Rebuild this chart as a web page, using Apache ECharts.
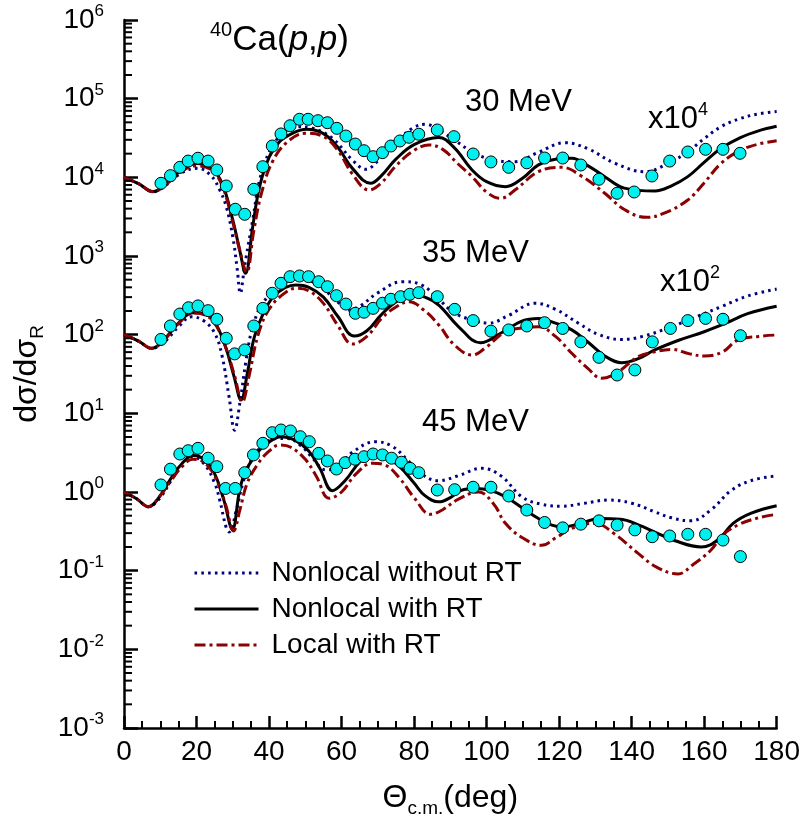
<!DOCTYPE html>
<html>
<head>
<meta charset="utf-8">
<script src="https://cdn.jsdelivr.net/npm/echarts@6/dist/echarts.min.js"></script>
<style>html,body{margin:0;padding:0;background:#fff}#c{width:803px;height:837px}</style>
</head>
<body>
<div id="c"></div>
<script>
// ---------- experimental data (x10^4 for 30 MeV, x10^2 for 35 MeV) ----------
const ang30 = [10.2,12.8,15.4,17.7,20.4,23.2,25.6,28.2,30.7,33.3,35.8,38.3,40.9,43.3,45.8,48.4,50.8,53.5,56.1,58.7,61.2,63.8,66.2,68.7,71.3,73.6,76.1,78.6,81.3,86.4,91.0,96.3,101.2,106.1,111.1,116.0,121.0,126.0,131.0,136.0,140.7,145.6,150.5,155.5,160.4,165.2,169.9];
const val30 = [8400,10500,13400,16100,17500,16100,12400,7760,3930,3390,7050,13650,25000,35600,45300,54700,54700,52500,49500,42000,33500,26500,21800,18300,20600,25000,29000,32300,35300,40000,32900,19800,15700,13400,15300,17600,17600,14350,9450,6270,6510,10400,16100,21000,22700,22700,20200];
const ang35 = [10.2,12.8,15.4,17.8,20.4,23.2,25.6,28.2,30.5,33.3,35.8,38.3,40.9,43.3,45.8,48.4,50.9,53.7,56.1,58.6,61.2,63.8,66.2,68.7,71.3,73.6,76.3,78.8,81.3,86.4,91.2,96.3,101.2,106.1,111.1,116.0,121.0,126.0,131.0,136.0,140.9,145.7,150.7,155.5,160.4,165.2,170.0];
const val35 = [87,129,183,220,232,202,157,90,57,64,129,216,336,450,546,557,546,471,407,313,245,187,193,216,251,282,304,326,342,304,210,151,111,115,129,142,120,81,51.5,30.7,35.6,81,120,151,161,157,97];
const ang45 = [10.2,12.8,15.4,17.7,20.4,23.2,25.6,28.0,30.7,33.3,35.7,38.3,40.9,43.3,45.9,48.6,51.1,53.7,56.1,58.6,61.0,63.7,66.2,68.7,71.3,73.8,76.5,78.9,81.3,86.4,91.2,96.3,101.2,106.1,111.1,116.0,121.0,126.0,131.0,136.0,140.9,145.7,150.5,155.5,160.4,165.2,170.0];
const val45 = [1.23,1.95,3.04,3.35,3.59,2.69,2.10,1.11,1.11,1.76,2.96,4.16,5.68,6.14,5.97,5.05,4.36,3.10,2.48,1.96,2.36,2.61,2.81,3.04,2.96,2.69,2.39,2.00,1.76,1.06,1.07,1.15,1.15,0.89,0.59,0.41,0.35,0.39,0.43,0.38,0.33,0.27,0.276,0.29,0.29,0.245,0.151];

// ---------- calculated curves [angle, value] ----------
const nlNoRT30 = [[0,10000],[4,8300],[8,6560],[12,8200],[16,11500],[20.4,13000],[24,10500],[26.4,6900],[28.2,4240],[30,1760],[31.2,700],[32.1,336],[33,600],[33.7,980],[35.5,2870],[37.4,9250],[40.1,21200],[42.9,32900],[47.5,44000],[52,42000],[57.5,31300],[63,16600],[66.7,12650],[70.3,16600],[74.9,27100],[79.5,42000],[83.2,47200],[86.8,40000],[91,30000],[96,21200],[101,17000],[107.9,15800],[114,20500],[121.6,27500],[128,23000],[135.4,15100],[143.6,11800],[150,15000],[155.5,21200],[160,31000],[164.7,44100],[170,56000],[175,64000],[180,68500]];
const nlRT30 = [[0,10000],[4,8300],[8,6600],[12,8600],[16,12500],[20,15000],[24,13000],[27,8500],[30,2870],[31.9,1190],[33.5,603],[35.5,2360],[37.4,7600],[40.1,18300],[42.9,28400],[46.5,36300],[50.2,40800],[55,36000],[59,24000],[63,13000],[68,8400],[71,10500],[75,17000],[80,26000],[86.8,32000],[91,24000],[96,12400],[100,8800],[105.2,7600],[110,9800],[114.3,14400],[119,17000],[123.5,17500],[128,14000],[132.6,10200],[138,7300],[146.4,6700],[151,7800],[155.5,10200],[160,15500],[164.7,23400],[170,32000],[175,39000],[180,44500]];
const lRT30 = [[0,10000],[4,8300],[8,6560],[12,8400],[16,12000],[20,14000],[24,12500],[27,8000],[30,2700],[32,1150],[33.8,620],[35.8,2100],[38,6500],[41,16000],[45,28000],[50,36300],[55,33000],[59,22000],[63,11000],[67.6,6900],[71,8500],[75,14000],[80,22000],[84.1,25800],[88,22500],[92,15000],[96,10200],[100,6500],[103.8,5400],[108,7000],[114.3,11800],[120.7,13400],[126,10500],[132.6,6270],[138,3900],[144.1,3100],[149,3500],[155.5,5150],[160,8500],[164.7,15100],[170,22000],[175,26500],[180,29200]];

const nlNoRT35 = [[0,100],[4,83],[7.6,67],[11,80],[15,125],[18.6,169],[22,150],[25,105],[27,55],[29,16],[30.5,6.1],[32,14],[33.7,48],[35.5,126],[38.3,251],[43,420],[47.5,510],[51,490],[55,380],[59,260],[62,206],[65,230],[70,340],[76.8,471],[82,430],[86.8,282],[91,190],[96,154],[100.6,140],[106,175],[113.4,251],[119,210],[125.3,140],[131,100],[137.2,87],[143,95],[151,126],[158,170],[164.7,227],[172,310],[180,380]];
const nlRT35 = [[0,100],[4,83],[7.6,67],[11,86],[15,140],[19,190],[22,185],[25,145],[28,70],[30.3,30],[32.3,14.8],[34,32],[36,95],[39,210],[42,330],[47.4,428],[51,400],[55,300],[59,170],[63.5,96],[67,112],[71,180],[75,260],[79.5,319],[83,300],[86.8,238],[92.3,126],[98.3,79],[104,105],[109.7,149],[114.3,161],[119,140],[123.5,115],[128,80],[132.6,53.6],[137.2,44],[142,50],[146.4,64],[153,85],[160,109],[166,140],[172,185],[180,230]];
const lRT35 = [[0,100],[4,83],[7.6,67],[11,85],[15,138],[19,188],[22,180],[25,140],[28,70],[30.5,30],[32.6,14],[34.5,30],[37,100],[40,210],[44,330],[47.4,388],[51,360],[55,250],[59,130],[63,76],[67,95],[71,160],[75,225],[78.6,262],[83,200],[86.8,133],[91,75],[96,55],[100,70],[105.2,109],[110,122],[114.3,126],[119,95],[123.5,58],[128,37],[131.7,27.9],[136,33],[141.8,52.5],[146,60],[151,65],[156,57],[160.1,53.6],[165,60],[169.3,85.5],[175,95],[180,99]];

const nlNoRT45 = [[0,1],[3.5,0.82],[6.7,0.65],[10,0.85],[13,1.4],[16,2.2],[18.6,2.81],[22,2.3],[25,1.3],[26.4,0.79],[28.2,0.35],[29,0.31],[31,0.59],[32.8,1.3],[35,2.5],[38,3.8],[42,4.8],[45,4.8],[49,3.8],[52,2.7],[55.7,1.91],[59,2.1],[63,3.2],[69.4,4.36],[74,3.8],[78,2.6],[82,1.7],[86.8,1.39],[92,1.6],[98.7,2.0],[104,1.6],[109.7,0.87],[115,0.7],[120.7,0.66],[127,0.72],[133.6,0.79],[140,0.72],[146.4,0.56],[151,0.47],[156.4,0.43],[162,0.6],[167.4,1.04],[173,1.4],[180,1.6]];
const nlRT45 = [[0,1],[3.5,0.82],[6.7,0.65],[10,0.9],[13,1.5],[16,2.3],[19,2.9],[22,2.6],[25,1.7],[27.5,0.8],[29.9,0.336],[31.9,1.06],[33.7,1.91],[37.4,3.42],[40,4.3],[43.3,5.05],[47,4.6],[51,3.3],[54,2.0],[57.5,1.04],[61,1.4],[65,2.4],[68.5,2.96],[72,2.8],[76,2.1],[80,1.3],[83,0.9],[86.8,0.75],[90,0.85],[93,1.05],[96.9,1.11],[101,1.05],[105.2,0.87],[110,0.62],[114.3,0.46],[118,0.38],[121,0.36],[126,0.4],[131,0.46],[137,0.45],[142,0.38],[146.4,0.31],[152,0.24],[159.2,0.2],[164,0.25],[168,0.4],[173,0.54],[180,0.67]];
const lRT45 = [[0,1],[3.5,0.82],[6.7,0.65],[10,0.9],[13,1.4],[16,2.1],[19,2.6],[22,2.4],[25,1.6],[28,0.7],[30.2,0.32],[32,0.6],[34,1.3],[37,2.3],[40,3.3],[42.9,3.96],[46,3.7],[50,2.6],[53,1.6],[56.6,0.83],[60,1.0],[64,1.7],[68.5,2.32],[72,2.2],[76,1.5],[80,0.85],[84.6,0.52],[88,0.6],[92,0.8],[97.8,1.0],[102,0.7],[105.2,0.4],[110,0.26],[115.2,0.21],[119,0.26],[123.5,0.345],[129.9,0.4],[135,0.3],[141.8,0.166],[147,0.11],[152.8,0.091],[157,0.12],[161.9,0.183],[165,0.28],[169.3,0.38],[175,0.47],[180,0.52]];

const legendNames = ['Nonlocal without RT','Nonlocal with RT','Local with RT'];
const yTickExp = [-3,-2,-1,0,1,2,3,4,5,6];
const yMinorMantissa = [2,3,4,5,6,7,8,9];

// ---------- build chart ----------
const FONT = "'Liberation Sans', Arial, Helvetica, sans-serif";
const chart = echarts.init(document.getElementById('c'), null, {renderer:'canvas'});
const zip = (a, v) => a.map((x, i) => [x, v[i]]);

const styles = [
  {color:'#000080', type:[2.6,4.2], width:3},
  {color:'#000000', type:'solid', width:3},
  {color:'#8b0000', type:[11,4,3,4], width:3}
];
const curveSets = [[nlNoRT30,nlRT30,lRT30],[nlNoRT35,nlRT35,lRT35],[nlNoRT45,nlRT45,lRT45]];
const series = [];
for (let k = 0; k < 3; k++) {
  for (let e = 0; e < 3; e++) {
    series.push({
      type:'line', name:legendNames[k], data:curveSets[e][k], smooth:0.4,
      showSymbol:false, symbol:'none', z:2 + k,
      lineStyle:{color:styles[k].color, type:styles[k].type, width:styles[k].width},
      itemStyle:{color:styles[k].color}
    });
  }
}
[[ang30,val30],[ang35,val35],[ang45,val45]].forEach(([a,v]) => {
  series.push({
    type:'scatter', name:'exp', data:zip(a,v), symbol:'circle', symbolSize:12, z:10,
    itemStyle:{color:'#00f0f0', borderColor:'#000', borderWidth:1, opacity:1}
  });
});

// log minor ticks (2..9 x 10^k) placed through the y scale
const minorVals = [];
for (let i = 0; i < yTickExp.length - 1; i++) {
  yMinorMantissa.forEach(m => minorVals.push([0, m * Math.pow(10, yTickExp[i])]));
}
series.push({
  type:'custom', name:'minorTicks', data:minorVals, silent:true, clip:false, z:20,
  renderItem:function(params, api){
    const p = api.coord([0, api.value(1)]);
    return {type:'line', shape:{x1:p[0], y1:p[1], x2:p[0] + 8, y2:p[1]}, style:{stroke:'#000', lineWidth:2}};
  }
});

const supRich = {
  n:{fontSize:31, lineHeight:36, fontFamily:FONT, color:'#000'},
  s:{fontSize:18, lineHeight:16, verticalAlign:'top', fontFamily:FONT, color:'#000'}
};
function annot(x, y, text) {
  return {type:'text', x:x, y:y, z:50, style:{text:text, rich:supRich, align:'left', verticalAlign:'middle', fill:'#000', font:'31px ' + FONT}};
}

const option = {
  backgroundColor:'#fff',
  animation:false,
  grid:{left:124, right:24, top:20, bottom:109, containLabel:false},
  legend:{
    data:legendNames, orient:'vertical', left:193, top:557, padding:0,
    itemWidth:64, itemHeight:14, itemGap:4,
    itemStyle:{opacity:0, borderWidth:0},
    lineStyle:{width:3},
    textStyle:{fontSize:28, lineHeight:32, fontFamily:FONT, color:'#000', padding:[0,0,0,8]},
    selectedMode:false
  },
  xAxis:{
    type:'value', min:0, max:180, interval:20,
    axisLine:{show:true, lineStyle:{color:'#000', width:2.5}},
    axisTick:{show:true, inside:true, length:12, lineStyle:{color:'#000', width:2.5}},
    minorTick:{show:true, splitNumber:4, length:7, lineStyle:{color:'#000', width:2}},
    splitLine:{show:false},
    axisLabel:{fontSize:28, color:'#000', fontFamily:FONT, margin:10},
    name:'{n|Θ}{s|c.m.}{n|(deg)}', nameLocation:'middle', nameGap:50,
    nameTextStyle:{rich:{
      n:{fontSize:32, lineHeight:40, fontFamily:FONT, color:'#000'},
      s:{fontSize:19, lineHeight:18, verticalAlign:'bottom', fontFamily:FONT, color:'#000'}
    }}
  },
  yAxis:{
    type:'log', logBase:10, min:0.001, max:1e6, splitNumber:9,
    axisLine:{show:true, lineStyle:{color:'#000', width:2.5}},
    axisTick:{show:true, inside:true, length:14, lineStyle:{color:'#000', width:2.5}},
    minorTick:{show:false},
    splitLine:{show:false},
    axisLabel:{
      margin:20, fontFamily:FONT, color:'#000',
      formatter:function(v){ const ex = Math.round(Math.log10(v)); return yTickExp.indexOf(ex) >= 0 ? '{b|10}{e|' + ex + '}' : ''; },
      rich:{
        b:{fontSize:28, lineHeight:34, fontFamily:FONT, color:'#000'},
        e:{fontSize:17, lineHeight:16, verticalAlign:'top', fontFamily:FONT, color:'#000'}
      }
    },
    name:'{n|dσ/dσ}{s|R}', nameLocation:'middle', nameRotate:90, nameGap:55,
    nameTextStyle:{rich:{
      n:{fontSize:32, lineHeight:40, fontFamily:FONT, color:'#000'},
      s:{fontSize:19, lineHeight:18, verticalAlign:'bottom', fontFamily:FONT, color:'#000'}
    }}
  },
  graphic:[
    {type:'text', x:210, y:40, z:50, style:{
      text:'{s|40}{n|Ca(}{i|p}{n|,}{i|p}{n|)}', align:'left', verticalAlign:'middle',
      rich:{
        n:{fontSize:35, lineHeight:40, fontFamily:FONT, fill:'#000'},
        i:{fontSize:35, lineHeight:40, fontStyle:'italic', fontFamily:FONT, fill:'#000'},
        s:{fontSize:20, lineHeight:16, verticalAlign:'top', fontFamily:FONT, fill:'#000'}
      }}},
    annot(465, 102, '{n|30 MeV}'),
    annot(648, 119, '{n|x10}{s|4}'),
    annot(422, 253, '{n|35 MeV}'),
    annot(660, 282, '{n|x10}{s|2}'),
    annot(422, 422, '{n|45 MeV}')
  ],
  series:series
};
chart.setOption(option);
</script>
</body>
</html>
